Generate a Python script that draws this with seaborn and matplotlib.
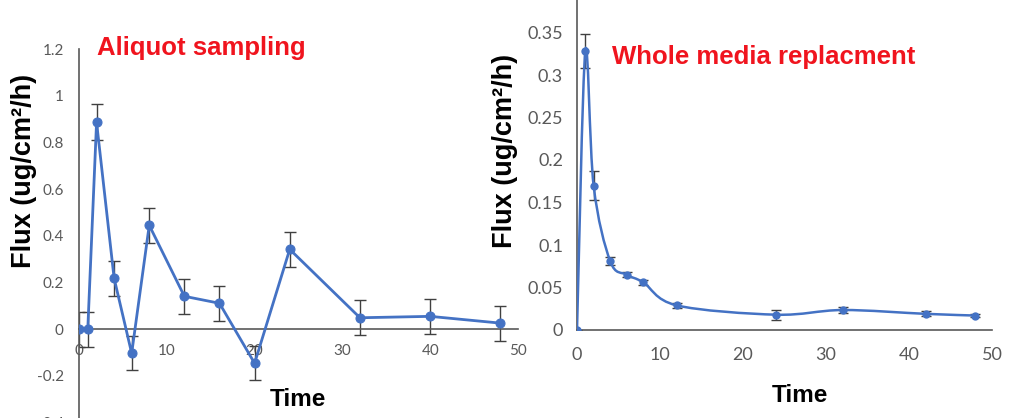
import numpy as np
import pandas as pd
import matplotlib
matplotlib.use("Agg")
import matplotlib.pyplot as plt
import seaborn as sns
from matplotlib.path import Path
from matplotlib.patches import PathPatch
from matplotlib.ticker import FuncFormatter, MultipleLocator

# ---- data ----
aliquot_time = [0, 1, 2, 4, 6, 8, 12, 16, 20, 24, 32, 40, 48]
aliquot_flux = [0.0, 0.0, 0.886, 0.218, -0.103, 0.445, 0.141, 0.111, -0.146, 0.342, 0.049, 0.055, 0.026]
aliquot_err = [0.075, 0.075, 0.077, 0.075, 0.073, 0.075, 0.075, 0.075, 0.073, 0.075, 0.075, 0.075, 0.075]

whole_time = [0, 1, 2, 4, 6, 8, 12, 24, 32, 42, 48]
whole_flux = [0.0, 0.328, 0.170, 0.081, 0.065, 0.056, 0.029, 0.018, 0.0235, 0.019, 0.017]
whole_err = [0.0, 0.02, 0.017, 0.005, 0.003, 0.003, 0.003, 0.006, 0.004, 0.003, 0.002]

left_yticks = [-0.4, -0.2, 0, 0.2, 0.4, 0.6, 0.8, 1.0, 1.2]
right_yticks = [0, 0.05, 0.1, 0.15, 0.2, 0.25, 0.3, 0.35]
xticks = [0, 10, 20, 30, 40, 50]

title_left = "Aliquot sampling"
title_right = "Whole media replacment"
ylabel = "Flux (ug/cm²/h)"
xlabel = "Time"

BLUE = "#4472C4"
AXC = "#595959"
ERRC = "#404040"
RED = "#F0141E"

sns.set_style("white")
plt.rcParams["font.family"] = ["Liberation Sans", "DejaVu Sans"]

fig = plt.figure(figsize=(10.25, 4.18), dpi=100)

def fmt(v, pos):
    s = "%g" % round(v, 4)
    return s.replace("\u2212", "-")

def style_axes(ax, tick_size, xpad, ypad):
    for s in ["top", "right"]:
        ax.spines[s].set_visible(False)
    ax.spines["left"].set_color(AXC)
    ax.spines["bottom"].set_color(AXC)
    ax.spines["left"].set_linewidth(1.2)
    ax.spines["bottom"].set_linewidth(1.2)
    ax.spines["bottom"].set_position(("data", 0))
    ax.tick_params(axis="both", length=0, labelcolor=AXC, labelsize=tick_size)
    ax.tick_params(axis="x", pad=xpad)
    ax.tick_params(axis="y", pad=ypad)
    for lab in ax.get_xticklabels() + ax.get_yticklabels():
        lab.set_family(["Lato", "DejaVu Sans"])
    ax.yaxis.set_major_formatter(FuncFormatter(fmt))
    ax.xaxis.set_major_formatter(FuncFormatter(fmt))
    ax.set_xlabel("")
    ax.set_ylabel("")
    ax.patch.set_alpha(0)
    ax.grid(False)

# ---- left panel ----
ax1 = fig.add_axes([79 / 1025, 1 - 422.6 / 418, 439 / 1025, (422.6 - 49) / 418])
ax1.errorbar(aliquot_time, aliquot_flux, yerr=aliquot_err, fmt="none",
             ecolor=ERRC, elinewidth=1.0, capsize=4, capthick=1.0, zorder=2)
df1 = pd.DataFrame({"t": aliquot_time, "f": aliquot_flux})
sns.lineplot(data=df1, x="t", y="f", ax=ax1, color=BLUE, linewidth=2.0,
             marker="o", markersize=6.5, markeredgecolor=BLUE, zorder=3)
ax1.set_xticks(xticks)
ax1.set_yticks(left_yticks)
style_axes(ax1, 11, 11, 11)
ax1.set_xlim(0, 50)
ax1.set_ylim(-0.4, 1.2)

# ---- right panel ----
ax2 = fig.add_axes([577 / 1025, 1 - 330 / 418, 415 / 1025, 340 / 418])
ax2.errorbar(whole_time, whole_flux, yerr=whole_err, fmt="none",
             ecolor=ERRC, elinewidth=1.0, capsize=3.5, capthick=1.0, zorder=2)

# smoothed line (Bezier path through the data points, Excel-style smoothing)
P = np.column_stack([whole_time, whole_flux]).astype(float)
verts = [P[0]]
codes = [Path.MOVETO]
n = len(P)
for i in range(n - 1):
    p_prev = P[i - 1] if i > 0 else P[i]
    p_next2 = P[i + 2] if i + 2 < n else P[i + 1]
    c1 = P[i] + (P[i + 1] - p_prev) / 6.0
    c2 = P[i + 1] - (p_next2 - P[i]) / 6.0
    verts += [c1, c2, P[i + 1]]
    codes += [Path.CURVE4] * 3
ax2.add_patch(PathPatch(Path(verts, codes), facecolor="none", edgecolor=BLUE,
                        linewidth=1.8, zorder=3))
df2 = pd.DataFrame({"t": whole_time, "f": whole_flux})
sns.scatterplot(data=df2, x="t", y="f", ax=ax2, color=BLUE, s=36,
                edgecolor=BLUE, linewidth=0, zorder=4)
ax2.set_xticks(xticks)
ax2.set_yticks(right_yticks)
style_axes(ax2, 13, 12, 10)
ax2.set_xlim(0, 50)
ax2.set_ylim(0, 0.4)

# ---- labels and titles ----
bold = dict(fontweight="bold", color="black", family=["Liberation Sans", "DejaVu Sans"])
fig.text(24 / 1025, 1 - 171 / 418, ylabel, rotation=90, ha="center", va="center", fontsize=19.5, **bold)
fig.text(505 / 1025, 1 - 151 / 418, ylabel, rotation=90, ha="center", va="center", fontsize=19.5, **bold)
fig.text(298 / 1025, 1 - 400 / 418, xlabel, ha="center", va="center", fontsize=17.5, **bold)
fig.text(800 / 1025, 1 - 395 / 418, xlabel, ha="center", va="center", fontsize=17.5, **bold)
fig.text(97 / 1025, 1 - 48 / 418, title_left, ha="left", va="center", fontsize=18.5,
         fontweight="bold", color=RED, family=["Liberation Sans", "DejaVu Sans"])
fig.text(612 / 1025, 1 - 57 / 418, title_right, ha="left", va="center", fontsize=18.5,
         fontweight="bold", color=RED, family=["Liberation Sans", "DejaVu Sans"])

fig.savefig("out.png", dpi=100)
